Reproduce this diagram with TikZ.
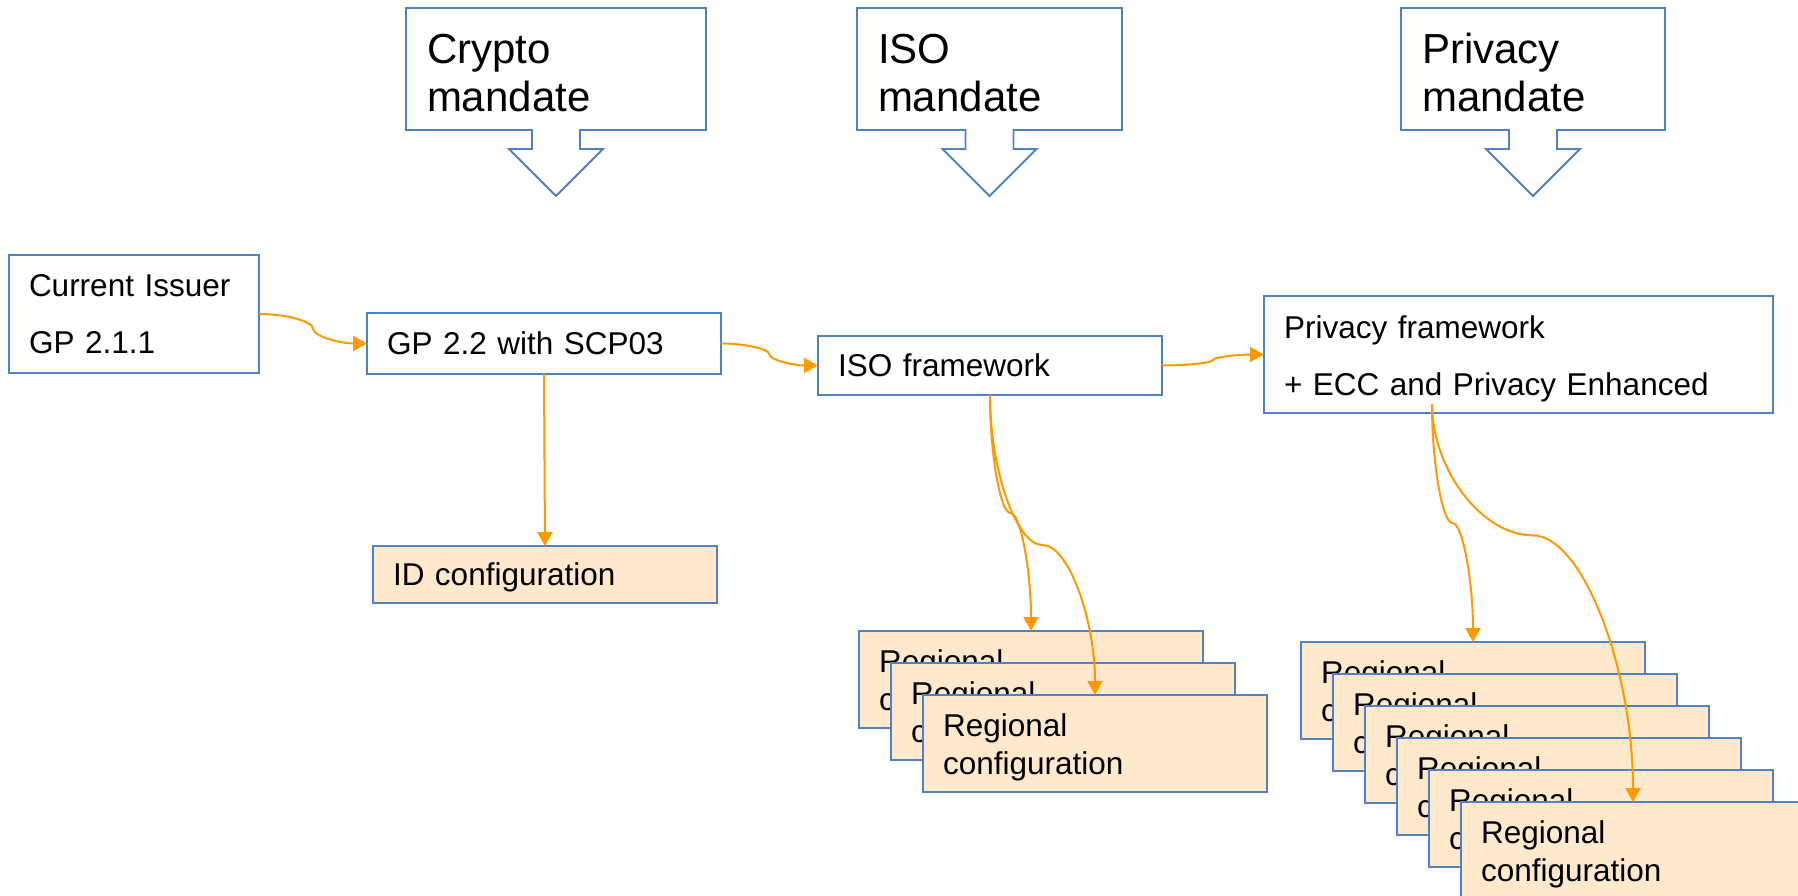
\documentclass[tikz,border=0pt]{standalone}
\usepackage{fontspec}
\setmainfont{Liberation Sans}
\usetikzlibrary{arrows.meta,calc}
\definecolor{boxblue}{RGB}{80,130,195}
\definecolor{connor}{RGB}{255,153,0}
\definecolor{peach}{RGB}{255,233,204}
\newcommand\firstlift[1]{\rule{0pt}{#1}}
\tikzset{
  plainbox/.style={draw=boxblue, line width=1.8pt, fill=white, anchor=north west,
    inner xsep=20pt, inner ysep=0pt, outer sep=0pt, align=left,
    font=\fontsize{31.5}{38}\selectfont},
  cfg/.style={plainbox, fill=peach},
  regbox/.style={cfg, minimum width=344pt, minimum height=97pt, text width=304pt},
  twoline/.style={font=\fontsize{31.5}{57}\selectfont},
  calltext/.style={anchor=north west, inner xsep=21pt, inner ysep=0pt, outer sep=0pt,
    align=left, minimum height=122pt, font=\fontsize{42}{48}\selectfont},
  callout/.style={draw=boxblue, line width=1.8pt, line join=miter},
  conn/.style={draw=connor, line width=2pt, -{Triangle[width=15pt,length=14pt]}},
  hcurve/.style={to path={let \p1=(\tikztostart), \p2=(\tikztotarget) in
    .. controls ({\x1+(\x2-\x1)/4},\y1) and ({(\x1+\x2)/2},{\y1+(\y2-\y1)/4})
    .. ({(\x1+\x2)/2},{(\y1+\y2)/2})
    .. controls ({(\x1+\x2)/2},{\y1+3*(\y2-\y1)/4}) and ({\x1+3*(\x2-\x1)/4},\y2)
    .. (\tikztotarget)}},
  vcurve/.style={to path={let \p1=(\tikztostart), \p2=(\tikztotarget), \n1={#1} in
    .. controls (\x1,{\y1+\n1*(\y2-\y1)/2}) and ({\x1+(\x2-\x1)/4},{\y1+\n1*(\y2-\y1)})
    .. ({(\x1+\x2)/2},{\y1+\n1*(\y2-\y1)})
    .. controls ({\x1+3*(\x2-\x1)/4},{\y1+\n1*(\y2-\y1)}) and (\x2,{(\y1+\n1*(\y2-\y1)+\y2)/2})
    .. (\tikztotarget)}}
}
\begin{document}
\begin{tikzpicture}[x=1pt,y=-1pt]
\useasboundingbox (0,0) rectangle (1798,896);
\fill[white] (0,0) rectangle (1798,896);
\clip (0,0) rectangle (1798,896);

% mandate callouts
\node[calltext, minimum width=300pt, text width=258pt] (cm) at (406,8) {\firstlift{37pt}Crypto\\mandate};
\node[calltext, minimum width=265pt, text width=223pt] (im) at (857,8) {\firstlift{37pt}ISO\\mandate};
\node[calltext, minimum width=264pt, text width=222pt] (pm) at (1401,8) {\firstlift{37pt}Privacy\\mandate};
\foreach \m in {cm,im,pm}{
  \draw[callout] (\m.north west) -- (\m.north east) -- (\m.south east)
    -- ($(\m.south)+(24,0)$) -- ++(0,19) -- ++(23,0) -- ($(\m.south)+(0,66)$)
    -- ($(\m.south)+(-47,19)$) -- ++(23,0) -- ++(0,-19) -- (\m.south west) -- cycle;
}

% main boxes
\node[plainbox, twoline, minimum width=250pt, minimum height=118pt, text width=210pt] (ci) at (9,255) {Current Issuer\\GP 2.1.1};
\node[plainbox, minimum width=354pt, minimum height=61pt, text width=314pt] (gp) at (367,313) {GP 2.2 with SCP03};
\node[plainbox, minimum width=344pt, minimum height=59pt, text width=304pt] (iso) at (818,336) {ISO framework};
\node[plainbox, twoline, minimum width=509pt, minimum height=117pt, text width=469pt] (pf) at (1264,296) {\firstlift{31.5pt}Privacy framework\\+ ECC and Privacy Enhanced};
\node[cfg, minimum width=344pt, minimum height=57pt, text width=304pt] (id) at (373,546) {\firstlift{29.5pt}ID configuration};

% ISO regional stack
\node[regbox] (ir1) at (859,631) {\firstlift{30pt}Regional\\configuration};
\node[regbox] (ir2) at (891,663) {\firstlift{30pt}Regional\\configuration};
\node[regbox] (ir3) at (923,695) {\firstlift{30pt}Regional\\configuration};

% Privacy regional stack
\node[regbox] (pr1) at (1301,642) {\firstlift{30pt}Regional\\configuration};
\node[regbox] (pr2) at (1333,674) {\firstlift{30pt}Regional\\configuration};
\node[regbox] (pr3) at (1365,706) {\firstlift{30pt}Regional\\configuration};
\node[regbox] (pr4) at (1397,738) {\firstlift{30pt}Regional\\configuration};
\node[regbox] (pr5) at (1429,770) {\firstlift{30pt}Regional\\configuration};
\node[regbox] (pr6) at (1461,802) {\firstlift{30pt}Regional\\configuration};

% connectors
\draw[conn] (ci.east) to[hcurve] (gp.west);
\draw[conn] (gp.east) to[hcurve] (iso.west);
\draw[conn] (iso.east) to[hcurve] (pf.west);
\draw[conn] (gp.south) -- (id.north);
\draw[conn] (iso.south) to[vcurve=0.5] (ir1.north);
\draw[conn] (iso.south) to[vcurve=0.5] (ir3.north);
\coordinate (pfout) at (1432,404);
\draw[conn] (pfout) to[vcurve=0.5] (pr1.north);
\draw[conn] (pfout) to[vcurve=0.33] (pr6.north);
\end{tikzpicture}
\end{document}
